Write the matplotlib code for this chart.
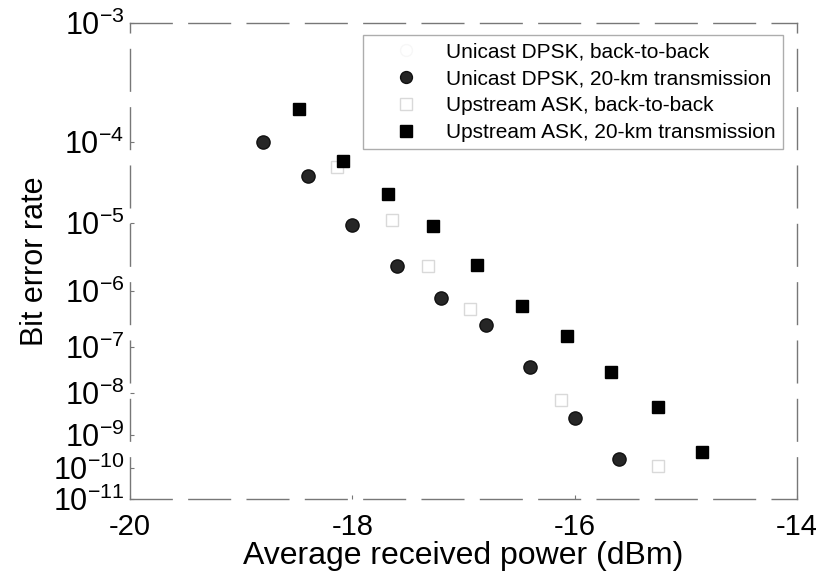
import numpy as np
import matplotlib
matplotlib.use("Agg")
import matplotlib.pyplot as plt

# Dữ liệu (BER theo công suất thu trung bình, dBm)
dpsk_b2b_p = []
dpsk_b2b_ber = []

dpsk_20km_p = [-18.8, -18.4, -18.0, -17.6, -17.2, -16.8, -16.4, -16.0, -15.6]
dpsk_20km_ber = [1.0e-4, 3.8e-5, 9.3e-6, 2.3e-6, 7.4e-7, 2.5e-7, 3.6e-8, 2.5e-9, 1.9e-10]

ask_b2b_p = [-18.14, -17.64, -17.32, -16.94, -16.12, -15.25]
ask_b2b_ber = [4.9e-5, 1.1e-5, 2.3e-6, 4.8e-7, 6.9e-9, 1.15e-10]

ask_20km_p = [-18.48, -18.08, -17.68, -17.27, -16.88, -16.47, -16.07, -15.67, -15.25, -14.85]
ask_20km_ber = [1.9e-4, 5.8e-5, 2.3e-5, 8.9e-6, 2.4e-6, 5.4e-7, 1.55e-7, 2.8e-8, 4.6e-9, 3.1e-10]

xticks = [-20, -18, -16, -14]
yexp = [3, 4, 5, 6, 7, 8, 9, 10, 11]

plt.rcParams['font.family'] = ['Liberation Sans', 'DejaVu Sans']
plt.rcParams['mathtext.default'] = 'regular'

# Trục BER không đều như bản gốc (gần giống thang -log(-log(BER)))
knot_e = np.array([3, 4, 5, 6, 7, 8, 9, 10, 11], dtype=float)
knot_h = np.array([476, 357, 276, 208, 152, 106, 64, 31, 0], dtype=float)
s0 = (knot_h[1] - knot_h[0]) / (knot_e[1] - knot_e[0])
s1 = (knot_h[-1] - knot_h[-2]) / (knot_e[-1] - knot_e[-2])
ke = np.concatenate([[-20.0], knot_e, [60.0]])
kh = np.concatenate([[knot_h[0] + s0 * (-20 - 3)], knot_h, [knot_h[-1] + s1 * (60 - 11)]])


def fwd(x):
    x = np.clip(np.asarray(x, dtype=float), 1e-60, 1e20)
    return np.interp(-np.log10(x), ke, kh)


def inv(h):
    e = np.interp(np.asarray(h, dtype=float), kh[::-1], ke[::-1])
    return 10.0 ** (-e)


fig = plt.figure(figsize=(8.19, 5.75), dpi=100)
ax = fig.add_axes([0.1587, 0.1322, 0.8144, 0.8278])
ax.set_yscale('function', functions=(fwd, inv))

ax.plot(dpsk_b2b_p, dpsk_b2b_ber, 'o', ms=9.5, mfc='none', mec='#f7f7f7',
        label='Unicast DPSK, back-to-back')
ax.plot(dpsk_20km_p, dpsk_20km_ber, 'o', ms=9.5, mfc='#262626', mec='#111111',
        label='Unicast DPSK, 20-km transmission')
ax.plot(ask_b2b_p, ask_b2b_ber, 's', ms=9, mfc='none', mec='#d9d9d9', mew=1.0,
        label='Upstream ASK, back-to-back')
ax.plot(ask_20km_p, ask_20km_ber, 's', ms=9, mfc='black', mec='black',
        label='Upstream ASK, 20-km transmission')

ax.set_xlim(-20, -14)
ax.set_ylim(1e-11, 1e-3)
ax.set_xticks(xticks)
ax.set_xticklabels([str(t) for t in xticks])
ax.set_yticks([10.0 ** -e for e in yexp])
ax.set_yticklabels([r'$10^{-%d}$' % e for e in yexp])
ax.minorticks_off()
ax.tick_params(axis='both', length=3, direction='in', color='#777777')
ax.tick_params(axis='y', labelsize=22, pad=4)
ax.tick_params(axis='x', labelsize=21, pad=10)

for s in ax.spines.values():
    s.set_color('#777777')
    s.set_linewidth(1.0)
    s.set_linestyle((0, (30, 12)))

ax.set_xlabel('Average received power (dBm)', fontsize=23, labelpad=0)
ax.set_ylabel('Bit error rate', fontsize=22, labelpad=2)

leg = ax.legend(loc='upper right', bbox_to_anchor=(0.979, 0.975), borderaxespad=0,
                fontsize=15, frameon=True, fancybox=False, edgecolor='#999999',
                handlelength=3.5, handletextpad=0.15, labelspacing=0.38,
                borderpad=0.35, markerscale=0.9)
leg.get_frame().set_linewidth(1.0)

fig.savefig('out.png', dpi=100)
